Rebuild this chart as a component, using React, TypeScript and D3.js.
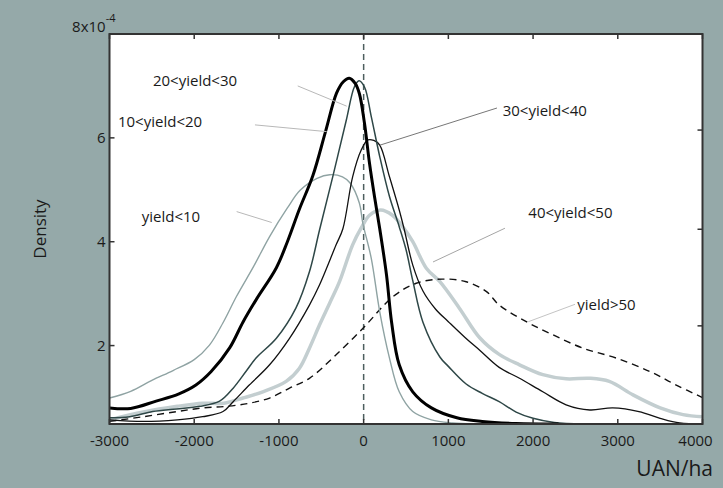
import React, { useRef, useEffect } from 'react';
import * as d3 from 'd3';

// density values are in units of 1e-4
const yieldLt10: [number, number][] = [
  [-3000, 0.99], [-2750, 1.12], [-2500, 1.33], [-2250, 1.52], [-2000, 1.73], [-1820, 2.01],
  [-1660, 2.44], [-1500, 2.95], [-1300, 3.52], [-1110, 4.10], [-900, 4.65], [-750, 4.99],
  [-550, 5.22], [-400, 5.29], [-250, 5.25], [-160, 5.13], [-50, 4.74], [-10, 4.36],
  [90, 3.68], [190, 2.65], [305, 1.76], [420, 1.11], [580, 0.73], [800, 0.57], [1050, 0.51], [1300, 0.49]
];
const yield10to20: [number, number][] = [
  [-3000, 0.80], [-2750, 0.79], [-2450, 0.93], [-2180, 1.07], [-1980, 1.24], [-1800, 1.50],
  [-1580, 1.96], [-1425, 2.45], [-1270, 2.88], [-1030, 3.50], [-900, 4.00], [-760, 4.62],
  [-600, 5.27], [-450, 6.12], [-320, 6.86], [-240, 7.08], [-170, 7.15], [-100, 7.05],
  [-50, 6.85], [10, 6.28], [70, 5.5], [130, 4.85], [190, 4.25], [270, 3.36], [330, 2.45],
  [420, 1.63], [580, 1.11], [800, 0.80], [1100, 0.61], [1400, 0.54], [1800, 0.50], [2300, 0.49]
];
const yield20to30: [number, number][] = [
  [-3000, 0.61], [-2760, 0.63], [-2490, 0.73], [-2210, 0.78], [-1940, 0.83], [-1700, 0.93],
  [-1540, 1.18], [-1390, 1.50], [-1270, 1.76], [-1030, 2.14], [-800, 2.72], [-640, 3.42],
  [-520, 4.23], [-365, 5.25], [-205, 6.34], [-110, 6.98], [-55, 7.10], [10, 6.98],
  [90, 6.41], [190, 5.64], [305, 4.87], [420, 4.29], [500, 3.85], [580, 3.25], [700, 2.45],
  [900, 1.78], [1000, 1.6], [1210, 1.26], [1400, 1.08], [1600, 0.92], [1800, 0.72],
  [2000, 0.60], [2250, 0.52], [2600, 0.49]
];
const yield30to40: [number, number][] = [
  [-3000, 0.57], [-2600, 0.54], [-2200, 0.57], [-1900, 0.63], [-1660, 0.73], [-1540, 0.92],
  [-1350, 1.24], [-1110, 1.63], [-875, 2.14], [-640, 2.78], [-520, 3.17], [-325, 3.94],
  [-245, 4.25], [-130, 5.25], [-30, 5.76], [50, 5.96], [120, 5.95], [190, 5.86], [305, 5.25],
  [420, 4.61], [480, 4.23], [580, 3.55], [700, 3.05], [850, 2.7], [1000, 2.46], [1200, 2.15],
  [1370, 1.91], [1600, 1.58], [1840, 1.37], [2115, 1.11], [2390, 0.86], [2670, 0.76],
  [2940, 0.80], [3250, 0.73], [3500, 0.60], [3730, 0.51], [4000, 0.49]
];
const yield40to50: [number, number][] = [
  [-3000, 0.57], [-2600, 0.72], [-2200, 0.83], [-1900, 0.89], [-1650, 0.89], [-1425, 0.99],
  [-1190, 1.11], [-915, 1.31], [-760, 1.56], [-640, 1.95], [-520, 2.40], [-400, 2.82],
  [-285, 3.23], [-130, 3.94], [-30, 4.26], [70, 4.51], [200, 4.61], [340, 4.51], [460, 4.29],
  [580, 4.0], [740, 3.49], [900, 3.23], [1130, 2.72], [1370, 2.15], [1600, 1.83], [1840, 1.63],
  [2115, 1.44], [2390, 1.36], [2670, 1.37], [2900, 1.31], [3180, 1.05], [3500, 0.80],
  [3770, 0.67], [4000, 0.63]
];
const yieldGt50: [number, number][] = [
  [-3000, 0.54], [-2600, 0.63], [-2200, 0.73], [-1900, 0.80], [-1620, 0.83], [-1350, 0.89],
  [-1110, 0.99], [-875, 1.18], [-640, 1.37], [-365, 1.76], [-10, 2.33], [345, 2.94],
  [620, 3.20], [930, 3.28], [1210, 3.23], [1450, 3.04], [1600, 2.78], [1920, 2.46],
  [2230, 2.21], [2590, 1.95], [2980, 1.76], [3380, 1.50], [3690, 1.24], [4000, 1.0]
];

const xTicks = [-3000, -2000, -1000, 0, 1000, 2000, 3000, 4000];
const yTicks = [2, 4, 6];
const rightTicks = [2.38, 4.24, 6.15];

// label text, label anchor (data units), leader start and end (data units)
const labels = ['yield<10', '10<yield<20', '20<yield<30', '30<yield<40', '40<yield<50', 'yield>50'];
const labelPos = [[-2620, 4.38], [-2900, 6.21], [-2487, 7.0], [1641, 6.42], [1944, 4.45], [2522, 2.685]];
const leaders = [
  [-1499, 4.58, -1085, 4.37],
  [-1283, 6.25, -436, 6.12],
  [-778, 7.0, -200, 6.61],
  [1574, 6.575, 193, 5.86],
  [1668, 4.26, 819, 3.61],
  [2495, 2.795, 1944, 2.46]
];
const leaderColors = ['#b8b8b8', '#b8b8b8', '#b8b8b8', '#777777', '#a5a5a5', '#c4c4c4'];

const App = () => {
  const ref = useRef<SVGSVGElement>(null);

  useEffect(() => {
    const svg = d3.select(ref.current);
    svg.selectAll('*').remove();
    const width = 723;
    const height = 488;
    const left = 109.5, right = 702.5, top = 34, bottom = 424;
    const font = '"Open Sans", "DejaVu Sans", sans-serif';

    svg.append('rect').attr('width', width).attr('height', height).attr('fill', '#95a9a9');

    const x = d3.scaleLinear().domain([-3000, 4000]).range([left, right]);
    const y = d3.scaleLinear().domain([0.49, 8]).range([bottom, top]);

    svg.append('rect')
      .attr('x', left).attr('y', top)
      .attr('width', right - left).attr('height', bottom - top)
      .attr('fill', '#ffffff');

    svg.append('clipPath').attr('id', 'plot')
      .append('rect')
      .attr('x', left).attr('y', top)
      .attr('width', right - left).attr('height', bottom - top);

    const g = svg.append('g').attr('clip-path', 'url(#plot)');

    // zero line
    g.append('line')
      .attr('x1', x(0)).attr('x2', x(0))
      .attr('y1', top).attr('y2', bottom)
      .attr('stroke', '#4d5e5e').attr('stroke-width', 1.5)
      .attr('stroke-dasharray', '6,4');

    const line = d3.line<[number, number]>()
      .x(d => x(d[0]))
      .y(d => y(d[1]))
      .curve(d3.curveCatmullRom.alpha(0.5));

    const series = [
      { data: yield40to50, color: '#c3ced0', w: 3.5, dash: null },
      { data: yieldGt50, color: '#111111', w: 1.4, dash: '7,5' },
      { data: yieldLt10, color: '#8fa3a3', w: 1.4, dash: null },
      { data: yield30to40, color: '#111111', w: 1.3, dash: null },
      { data: yield20to30, color: '#2e4747', w: 1.5, dash: null },
      { data: yield10to20, color: '#000000', w: 3, dash: null }
    ];

    series.forEach(s => {
      g.append('path')
        .attr('d', line(s.data))
        .attr('fill', 'none')
        .attr('stroke', s.color)
        .attr('stroke-width', s.w)
        .attr('stroke-dasharray', s.dash);
    });

    // leaders and labels
    leaders.forEach((l, i) => {
      g.append('line')
        .attr('x1', x(l[0])).attr('y1', y(l[1]))
        .attr('x2', x(l[2])).attr('y2', y(l[3]))
        .attr('stroke', leaderColors[i]).attr('stroke-width', 1);
    });

    svg.selectAll('.lab')
      .data(labels)
      .enter().append('text')
      .attr('class', 'lab')
      .attr('x', (d, i) => x(labelPos[i][0]))
      .attr('y', (d, i) => y(labelPos[i][1]))
      .attr('font-family', font)
      .attr('font-size', 15)
      .attr('fill', '#1a1a1a')
      .text(d => d);

    // frame
    svg.append('rect')
      .attr('x', left).attr('y', top)
      .attr('width', right - left).attr('height', bottom - top)
      .attr('fill', 'none')
      .attr('stroke', '#333333')
      .attr('stroke-width', 2);

    // ticks (inward)
    xTicks.forEach(t => {
      svg.append('line')
        .attr('x1', x(t)).attr('x2', x(t))
        .attr('y1', bottom).attr('y2', bottom - 5)
        .attr('stroke', '#333').attr('stroke-width', 1.5);
      svg.append('line')
        .attr('x1', x(t)).attr('x2', x(t))
        .attr('y1', top).attr('y2', top + 5)
        .attr('stroke', '#333').attr('stroke-width', 1.5);
      svg.append('text')
        .attr('x', x(t) + (t === 4000 ? -7 : 0))
        .attr('y', bottom + 22)
        .attr('text-anchor', 'middle')
        .attr('font-family', font)
        .attr('font-size', 15)
        .attr('fill', '#1a1a1a')
        .text(String(t));
    });

    yTicks.forEach(t => {
      svg.append('line')
        .attr('x1', left).attr('x2', left + 5)
        .attr('y1', y(t)).attr('y2', y(t))
        .attr('stroke', '#333').attr('stroke-width', 1.5);
      svg.append('text')
        .attr('x', left - 4)
        .attr('y', y(t) + 5)
        .attr('text-anchor', 'end')
        .attr('font-family', font)
        .attr('font-size', 15)
        .attr('fill', '#1a1a1a')
        .text(String(t));
    });

    rightTicks.forEach(t => {
      svg.append('line')
        .attr('x1', right).attr('x2', right - 5)
        .attr('y1', y(t)).attr('y2', y(t))
        .attr('stroke', '#333').attr('stroke-width', 1.5);
    });

    const topLabel = svg.append('text')
      .attr('x', left + 6)
      .attr('y', y(8) - 2)
      .attr('text-anchor', 'end')
      .attr('font-family', font)
      .attr('font-size', 15)
      .attr('fill', '#1a1a1a');
    topLabel.append('tspan').text('8x10');
    topLabel.append('tspan').attr('dy', -10).attr('font-size', 11).text('-4');

    svg.append('text')
      .attr('transform', `translate(46, ${(top + bottom) / 2}) rotate(-90)`)
      .attr('text-anchor', 'middle')
      .attr('font-family', font)
      .attr('font-size', 17)
      .attr('fill', '#1a1a1a')
      .text('Density');

    svg.append('text')
      .attr('x', 713)
      .attr('y', 476)
      .attr('text-anchor', 'end')
      .attr('font-family', font)
      .attr('font-size', 21)
      .attr('fill', '#1a1a1a')
      .text('UAN/ha');
  }, []);

  return (
    <svg ref={ref} width="723" height="488" style={{ position: 'absolute', left: 0, top: 0 }}></svg>
  );
};

export default App;
